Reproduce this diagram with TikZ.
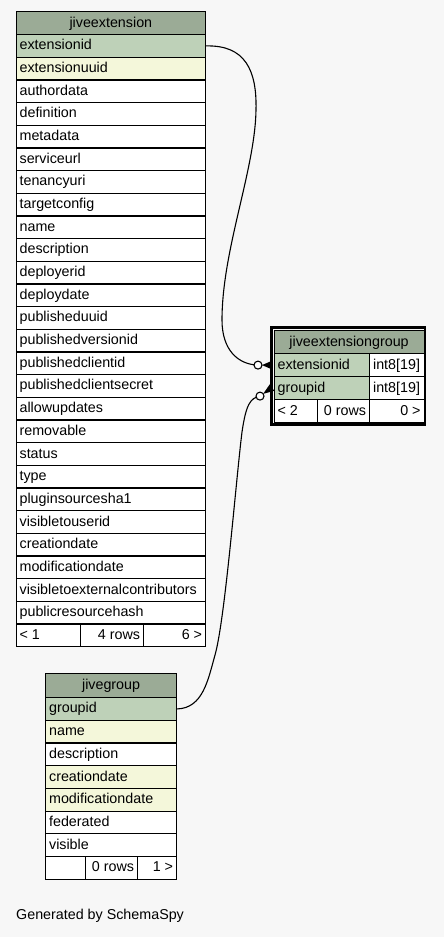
\documentclass[tikz,border=0pt]{standalone}
\usepackage{fontspec}
\setmainfont{Liberation Sans}
\usetikzlibrary{calc}
\definecolor{bgc}{HTML}{F7F7F7}
\definecolor{titlec}{HTML}{9BAB96}
\definecolor{pkc}{HTML}{BED1B8}
\definecolor{idxc}{HTML}{F4F7DA}
\definecolor{whc}{HTML}{FFFFFF}
\tikzset{
  cell/.style={draw=black, line width=1.2pt, inner xsep=3.5pt, inner ysep=0pt,
    text height=10.5pt, text depth=2.5pt, anchor=north west,
    font=\fontsize{14.3}{16}\selectfont},
  edge/.style={draw=black, line width=1.1pt},
  ring/.style={draw=black, fill=white, line width=1.1pt},
  crow/.style={fill=black},
  note/.style={font=\fontsize{14.3}{16}\selectfont, inner sep=0pt}
}
\newcommand\cellbox[8]{%
  \node[cell, fill=#6, minimum width=#4pt, minimum height=#5pt] (#1) at (#2,#3)
    {\makebox[\dimexpr #4pt-7pt\relax][#7]{#8}};}
\begin{document}
\begin{tikzpicture}[x=1pt,y=-1pt]
\fill[bgc] (0,0) rectangle (444,937);
\useasboundingbox (0,0) rectangle (444,937);
% ---------- jiveextension ----------
\cellbox{xe-title}{15.5}{11}{189.5}{23}{titlec}{c}{jiveextension}
\foreach \n/\c [count=\i from 0] in {extensionid/pkc, extensionuuid/idxc,
  authordata/whc, definition/whc, metadata/whc, serviceurl/whc, tenancyuri/whc,
  targetconfig/whc, name/whc, description/whc, deployerid/whc, deploydate/whc,
  publisheduuid/whc, publishedversionid/whc, publishedclientid/whc,
  publishedclientsecret/whc, allowupdates/whc, removable/whc, status/whc,
  type/whc, pluginsourcesha1/whc, visibletouserid/whc, creationdate/whc,
  modificationdate/whc, visibletoexternalcontributors/whc, publicresourcehash/whc}
{\cellbox{xe-\n}{15.5}{{34+22.67*\i}}{189.5}{22.67}{\c}{l}{\n}}
\cellbox{xe-f1}{15.5}{623.4}{64.5}{22.67}{whc}{l}{< 1}
\cellbox{xe-f2}{80}{623.4}{63}{22.67}{whc}{r}{4 rows}
\cellbox{xe-f3}{143}{623.4}{62}{22.67}{whc}{r}{6 >}
% ---------- jiveextensiongroup ----------
\draw[line width=2.6pt] (271.6,327.6) rectangle (425,424.6);
\cellbox{xg-title}{273.5}{330}{150}{23}{titlec}{c}{jiveextensiongroup}
\cellbox{xg-extensionid}{273.5}{353}{95.5}{23}{pkc}{l}{extensionid}
\cellbox{xg-extensionid-t}{369}{353}{54.5}{23}{whc}{l}{int8[19]}
\cellbox{xg-groupid}{273.5}{376}{95.5}{23}{pkc}{l}{groupid}
\cellbox{xg-groupid-t}{369}{376}{54.5}{23}{whc}{l}{int8[19]}
\cellbox{xg-f1}{273.5}{399}{43.2}{23}{whc}{l}{< 2}
\cellbox{xg-f2}{316.7}{399}{52.3}{23}{whc}{r}{0 rows}
\cellbox{xg-f3}{369}{399}{54.5}{23}{whc}{r}{0 >}
% ---------- jivegroup ----------
\cellbox{jg-title}{45}{673}{131}{24}{titlec}{c}{jivegroup}
\foreach \n/\c [count=\i from 0] in {groupid/pkc, name/idxc, description/whc,
  creationdate/idxc, modificationdate/idxc, federated/whc, visible/whc}
{\cellbox{jg-\n}{45}{{697+22.7*\i}}{131}{22.7}{\c}{l}{\n}}
\cellbox{jg-f1}{45}{855.9}{40}{22.7}{whc}{l}{}
\cellbox{jg-f2}{85}{855.9}{52}{22.7}{whc}{r}{0 rows}
\cellbox{jg-f3}{137}{855.9}{39}{22.7}{whc}{r}{1 >}
% ---------- connectors ----------
\coordinate (c1) at ($(xg-extensionid.west)+(-15.5,0)$);
\coordinate (c2) at ($(xg-groupid.west)+(-13.5,8)$);
\draw[edge] (xe-extensionid.east) .. controls (245,45) and (257,70) .. (256,110)
  .. controls (255,170) and (222,250) .. (222,320)
  .. controls (222,350) and (238,364.5) .. (c1);
\draw[edge] (jg-groupid.east) .. controls (203,708) and (208,680) .. (215,655)
  .. controls (225,620) and (236,480) .. (242,432)
  .. controls (246,405) and (250,398) .. (c2);
\fill[crow] ($(xg-extensionid.west)+(-11.5,0)$) -- ($(xg-extensionid.west)+(-1,-4.5)$)
  -- ($(xg-extensionid.west)+(-1,4.5)$) -- cycle;
\fill[crow] ($(xg-groupid.west)+(-10.3,5.7)$) -- ($(xg-groupid.west)+(0.8,2.7)$)
  -- ($(xg-groupid.west)+(-3.8,-3.7)$) -- cycle;
\draw[ring] (c1) circle[radius=4];
\draw[ring] (c2) circle[radius=4];
% ---------- footer ----------
\node[note, anchor=base west] (gen) at (16,919.5) {Generated by SchemaSpy};
\end{tikzpicture}
\end{document}
